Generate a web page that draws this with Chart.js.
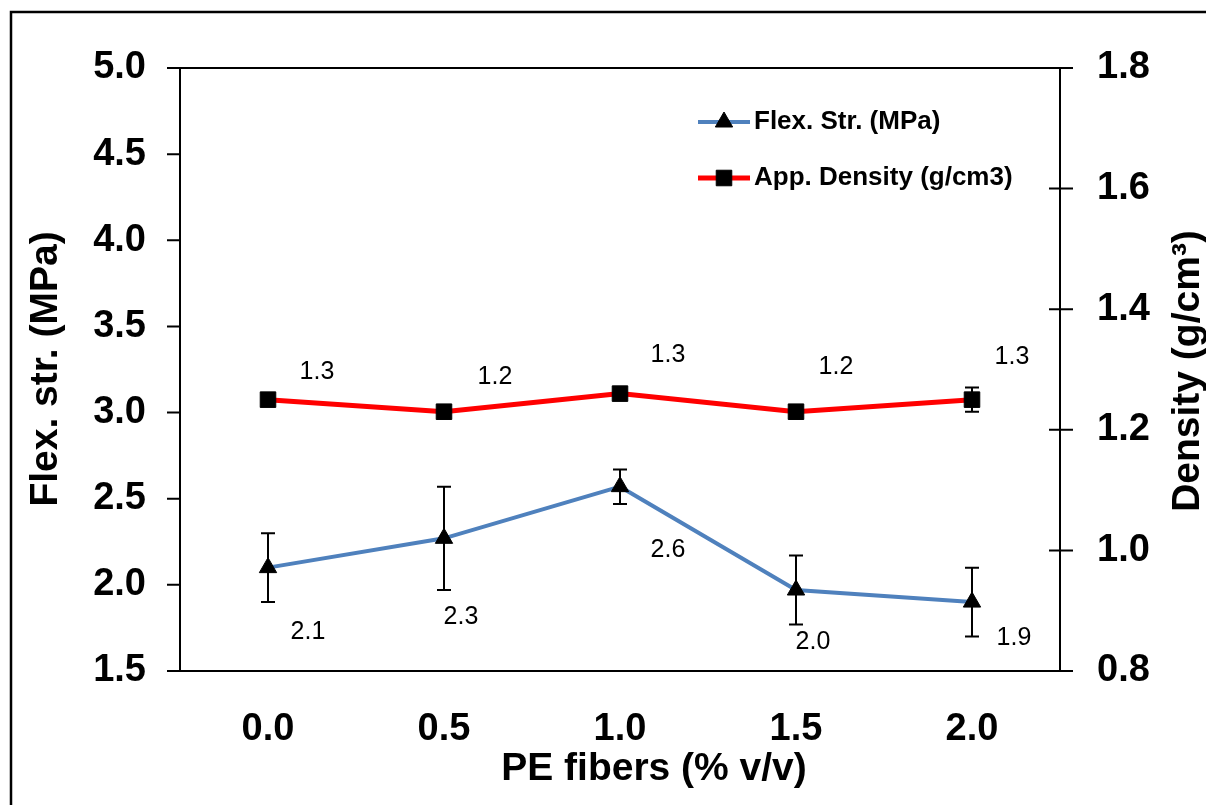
<!DOCTYPE html>
<html>
<head>
<meta charset="utf-8">
<script src="https://cdn.jsdelivr.net/npm/chart.js@4.4.0/dist/chart.umd.min.js"></script>
<style>
  html, body { margin: 0; padding: 0; background: #fff; }
  canvas { display: block; }
</style>
</head>
<body>
<canvas id="flexChart" width="1206" height="805"></canvas>
<script>
// Data
const fiberLabels = ['0.0', '0.5', '1.0', '1.5', '2.0']
const flexStr = [2.1, 2.27, 2.57, 1.97, 1.9]
const flexErr = [0.2, 0.3, 0.1, 0.2, 0.2]
const density = [1.25, 1.23, 1.26, 1.23, 1.25]
const densityErr = [0.01, 0.01, 0.01, 0.01, 0.02]

const FONT = '"Liberation Sans", Arial, sans-serif'
const BLUE = '#4f81bd'
const RED = '#ff0000'

// value label offsets (px from the point)
const flexLabelShift = [[40, 64], [17, 79], [48, 63], [17, 52], [42, 36]]
const densLabelShift = [[49, -28], [51, -35], [48, -39], [40, -45], [40, -43]]

const extras = {
    id: 'extras',
    beforeDraw(chart) {
        const ctx = chart.ctx
        ctx.save()
        ctx.fillStyle = '#fff'
        ctx.fillRect(0, 0, chart.width, chart.height)
        ctx.strokeStyle = '#000'
        ctx.lineWidth = 2.5
        ctx.strokeRect(11, 12, chart.width + 40, chart.height + 40)
        ctx.restore()
    },
    afterDatasetsDraw(chart) {
        const ctx = chart.ctx
        const x = chart.scales.x
        ctx.save()
        ctx.strokeStyle = '#000'
        ctx.lineWidth = 2
        const sets = [[flexStr, flexErr, chart.scales.y], [density, densityErr, chart.scales.y1]]
        sets.forEach(([vals, errs, sc]) => {
            vals.forEach((v, i) => {
                const px = x.getPixelForValue(i)
                const top = sc.getPixelForValue(v + errs[i])
                const bot = sc.getPixelForValue(v - errs[i])
                ctx.beginPath()
                ctx.moveTo(px, top); ctx.lineTo(px, bot)
                ctx.moveTo(px - 7, top); ctx.lineTo(px + 7, top)
                ctx.moveTo(px - 7, bot); ctx.lineTo(px + 7, bot)
                ctx.stroke()
            })
        })

        // value labels
        ctx.fillStyle = '#000'
        ctx.font = '25px ' + FONT
        ctx.textAlign = 'center'
        ctx.textBaseline = 'middle'
        flexStr.forEach((v, i) => {
            const px = x.getPixelForValue(i), py = chart.scales.y.getPixelForValue(v)
            ctx.fillText(v.toFixed(1), px + flexLabelShift[i][0], py + flexLabelShift[i][1])
        })
        density.forEach((v, i) => {
            const px = x.getPixelForValue(i), py = chart.scales.y1.getPixelForValue(v)
            ctx.fillText(v.toFixed(1), px + densLabelShift[i][0], py + densLabelShift[i][1])
        })
        ctx.restore()
    },
    afterDraw(chart) {
        const ctx = chart.ctx
        const a = chart.chartArea
        ctx.save()
        ctx.strokeStyle = '#000'
        ctx.lineWidth = 2
        ctx.strokeRect(a.left, a.top, a.right - a.left, a.bottom - a.top)
        ctx.beginPath()
        chart.scales.y.ticks.forEach(t => {
            const py = chart.scales.y.getPixelForValue(t.value)
            ctx.moveTo(a.left - 13, py); ctx.lineTo(a.left, py)
        })
        chart.scales.y1.ticks.forEach(t => {
            const py = chart.scales.y1.getPixelForValue(t.value)
            ctx.moveTo(a.right - 11, py); ctx.lineTo(a.right + 13, py)
        })
        ctx.stroke()

        // axis titles
        ctx.fillStyle = '#000'
        ctx.font = 'bold 39px ' + FONT
        ctx.textAlign = 'center'
        ctx.textBaseline = 'middle'
        ctx.fillText('PE fibers (% v/v)', 654, 769)
        ctx.save()
        ctx.translate(46, 369)
        ctx.rotate(-Math.PI / 2)
        ctx.fillText('Flex. str. (MPa)', 0, 0)
        ctx.restore()
        ctx.save()
        ctx.translate(1188, 371)
        ctx.rotate(-Math.PI / 2)
        ctx.fillText('Density (g/cm\u00B3)', 0, 0)
        ctx.restore()

        // legend
        const rows = [
            { y: 122, color: BLUE, width: 4, style: 'triangle', r: 10, text: 'Flex. Str. (MPa)' },
            { y: 178, color: RED, width: 5, style: 'rect', r: 11, text: 'App. Density (g/cm3)' }
        ]
        ctx.font = 'bold 26px ' + FONT
        ctx.textAlign = 'left'
        rows.forEach(r => {
            ctx.strokeStyle = r.color
            ctx.lineWidth = r.width
            ctx.beginPath()
            ctx.moveTo(698, r.y); ctx.lineTo(750, r.y)
            ctx.stroke()
            ctx.fillStyle = '#000'
            ctx.strokeStyle = '#000'
            ctx.lineWidth = 1
            Chart.helpers.drawPoint(ctx, { pointStyle: r.style, radius: r.r, borderWidth: 1, rotation: 0 }, 724, r.y)
            ctx.fillText(r.text, 754, r.y)
        })
        ctx.restore()
    }
}

const tickFont = { family: FONT, size: 38, weight: 'bold' }

const config = {
    type: 'line',
    data: {
        labels: fiberLabels,
        datasets: [{
            label: 'Flex. Str. (MPa)',
            data: flexStr,
            yAxisID: 'y',
            borderColor: BLUE,
            borderWidth: 4,
            pointStyle: 'triangle',
            pointRadius: 10,
            pointBackgroundColor: '#000',
            pointBorderColor: '#000',
            pointBorderWidth: 1,
            tension: 0
        }, {
            label: 'App. Density (g/cm3)',
            data: density,
            yAxisID: 'y1',
            borderColor: RED,
            borderWidth: 5,
            pointStyle: 'rect',
            pointRadius: 11,
            pointBackgroundColor: '#000',
            pointBorderColor: '#000',
            pointBorderWidth: 1,
            tension: 0
        }]
    },
    options: {
        responsive: false,
        animation: false,
        layout: { padding: { top: 68, left: 0, right: 0, bottom: 0 } },
        plugins: {
            legend: { display: false },
            tooltip: { enabled: false }
        },
        scales: {
            x: {
                type: 'category',
                offset: true,
                grid: { display: false, drawTicks: false },
                border: { display: false },
                ticks: { font: tickFont, color: '#000', padding: 36 },
                afterFit(s) { s.height = 134 }
            },
            y: {
                position: 'left',
                min: 1.5,
                max: 5.0,
                grid: { display: false, drawTicks: false },
                border: { display: false },
                ticks: {
                    stepSize: 0.5,
                    font: tickFont,
                    color: '#000',
                    padding: 34,
                    callback: v => v.toFixed(1)
                },
                afterFit(s) { s.width = 180 }
            },
            y1: {
                position: 'right',
                min: 0.8,
                max: 1.8,
                grid: { display: false, drawTicks: false },
                border: { display: false },
                ticks: {
                    stepSize: 0.2,
                    font: tickFont,
                    color: '#000',
                    padding: 37,
                    callback: v => v.toFixed(1)
                },
                afterFit(s) { s.width = 146 }
            }
        }
    },
    plugins: [extras]
}

const flexChart = new Chart(document.getElementById('flexChart'), config)
</script>
</body>
</html>
